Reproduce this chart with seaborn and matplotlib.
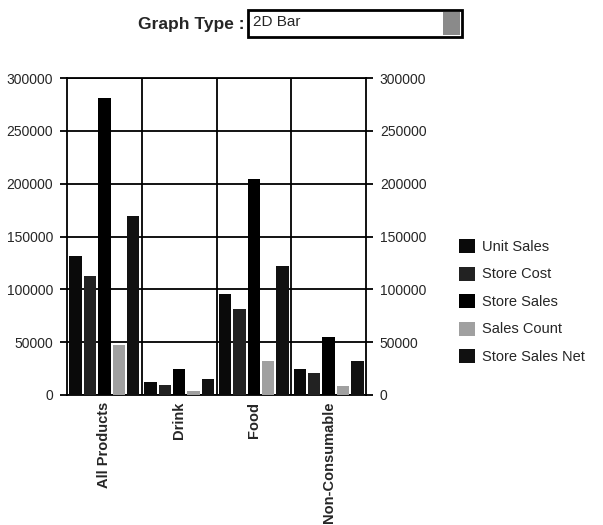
import pandas as pd
import seaborn as sns
import matplotlib.pyplot as plt
from matplotlib.patches import Rectangle

# Veriler
categories = ["All Products", "Drink", "Food", "Non-Consumable"]
measures = ["Unit Sales", "Store Cost", "Store Sales", "Sales Count", "Store Sales Net"]
unit_sales = [131500, 12700, 95500, 24800]
store_cost = [112700, 9500, 81500, 20900]
store_sales = [281000, 24800, 204000, 54600]
sales_count = [47500, 4200, 32000, 8200]
store_sales_net = [169500, 14700, 122200, 32300]
y_ticks = [0, 50000, 100000, 150000, 200000, 250000, 300000]

series = [unit_sales, store_cost, store_sales, sales_count, store_sales_net]
rows = []
for m, vals in zip(measures, series):
    for c, v in zip(categories, vals):
        rows.append({"category": c, "measure": m, "value": v})
df = pd.DataFrame(rows)

colors = ["#0a0a0a", "#222222", "#000000", "#a0a0a0", "#111111"]

sns.set_style("white")
plt.rcParams["font.family"] = ["Liberation Sans", "DejaVu Sans"]

fig = plt.figure(figsize=(6.03, 5.25), dpi=100)
ax = fig.add_axes([67 / 603, 1 - 395 / 525, 299 / 603, 317 / 525])

sns.barplot(data=df, x="category", y="value", hue="measure", order=categories,
            hue_order=measures, palette=colors, width=0.96, gap=0.14,
            saturation=1, linewidth=0, ax=ax, zorder=3)

ax.set_xlim(-0.5, 3.5)
ax.set_ylim(0, 300000)
ax.set_yticks(y_ticks)
ax.set_yticklabels([str(t) for t in y_ticks])
ax.set_xlabel("")
ax.set_ylabel("")

# yatay ızgara
for t in y_ticks:
    ax.axhline(t, color="black", lw=1.3, zorder=1)
# kategori ayırıcıları (eksen altına uzanan)
ax.set_xticks([-0.5, 0.5, 1.5, 2.5, 3.5], minor=True)
for xv in [0.5, 1.5, 2.5]:
    ax.axvline(xv, color="black", lw=1.3, zorder=1)
ax.tick_params(axis="x", which="minor", length=52, width=1.3, color="black", direction="out")
ax.tick_params(axis="x", which="major", length=0, pad=5)
ax.set_xticks(range(len(categories)))
ax.set_xticklabels(categories, rotation=90, va="top", ha="center", fontsize=10.5, fontweight="bold")

ax.tick_params(axis="y", which="major", length=5, width=1.3, color="black",
               left=True, right=True, labelleft=True, labelright=True,
               labelsize=10, pad=5, direction="out")

for s in ax.spines.values():
    s.set_color("black")
    s.set_linewidth(1.3)

ax.legend(loc="upper left", bbox_to_anchor=(459 / 603, 1 - 239 / 525),
          bbox_transform=fig.transFigure, frameon=False, fontsize=10.5,
          handlelength=1.1, handleheight=1.1, handletextpad=0.45,
          labelspacing=0.86, borderpad=0, borderaxespad=0, title=None)

# üst kısım: grafik tipi seçimi
fig.text(244 / 603, 1 - 24 / 525, "Graph Type :", ha="right", va="center",
         fontsize=12.5, fontweight="bold")
fig.patches.append(Rectangle((248 / 603, 1 - 37 / 525), 214 / 603, 27 / 525,
                             transform=fig.transFigure, facecolor="white",
                             edgecolor="black", lw=2))
fig.patches.append(Rectangle((443 / 603, 1 - 35 / 525), 17 / 603, 23 / 525,
                             transform=fig.transFigure, facecolor="#8a8a8a",
                             edgecolor="none"))
fig.text(253 / 603, 1 - 22 / 525, "2D Bar", ha="left", va="center", fontsize=11)

fig.savefig("out.png", dpi=100)
